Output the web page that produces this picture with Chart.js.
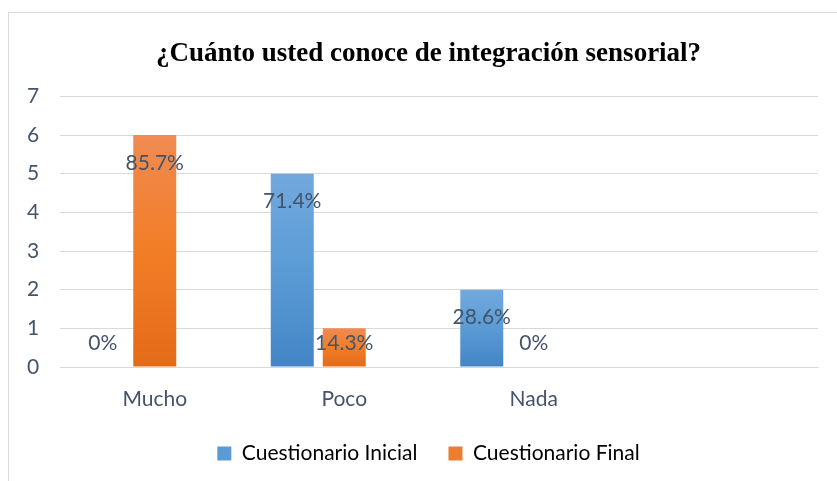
<!DOCTYPE html>
<html>
<head>
<meta charset="utf-8">
<script src="https://cdn.jsdelivr.net/npm/chart.js@4/dist/chart.umd.min.js"></script>
<style>
  body { margin: 0; background: #fff; width: 837px; height: 481px; overflow: hidden; }
  #box { position: absolute; left: 8px; top: 12px; width: 840px; height: 480px; border: 1px solid #d9d9d9; }
  #wrap { position: absolute; left: 0; top: 0; width: 828px; height: 468px; }
</style>
</head>
<body>
<div id="box"><div id="wrap"><canvas id="chart"></canvas></div></div>
<script>
// datos
let categorias = ["Mucho", "Poco", "Nada", ""];
let inicial = [0, 5, 2, null];
let final = [6, 1, 0, null];
let vacia = [null, null, null, null]; // tercera serie vacia (la hoja de Excel la tiene)
let pctInicial = ["0%", "71.4%", "28.6%", ""];
let pctFinal = ["85.7%", "14.3%", "0%", ""];
let ticksY = [0, 1, 2, 3, 4, 5, 6, 7];

const textColor = "#44546A";
const fontSize = 21;

function barGradient(mid, top, bottom){
    return function(context){
        let chart = context.chart;
        if(!chart.chartArea || context.raw == null) return top;
        let y = chart.scales.y;
        let y0 = y.getPixelForValue(context.raw);
        let y1 = y.getPixelForValue(0);
        if(y1 - y0 < 1) return bottom;
        let g = chart.ctx.createLinearGradient(0, y0, 0, y1);
        g.addColorStop(0, top);
        g.addColorStop(0.5, mid);
        g.addColorStop(1, bottom);
        return g;
    }
}

const labelsPlugin = {
    id: "etiquetas",
    afterDatasetsDraw(chart){
        let c = chart.ctx;
        let yScale = chart.scales.y;
        let base = yScale.getPixelForValue(0);
        c.save();
        c.font = fontSize + "px Lato";
        c.fillStyle = textColor;
        c.textAlign = "center";
        c.textBaseline = "middle";
        [pctInicial, pctFinal].forEach(function(labels, di){
            let meta = chart.getDatasetMeta(di);
            meta.data.forEach(function(bar, i){
                if(!labels[i]) return;
                let y = Math.min(bar.y + 28, base - 24);
                c.fillText(labels[i], bar.x, y);
            });
        });
        c.restore();
    }
};

const ctx = document.getElementById("chart").getContext("2d");
const myChart = new Chart(ctx, {
    type: "bar",
    data: {
        labels: categorias,
        datasets: [{
            label: "Cuestionario Inicial",
            data: inicial,
            backgroundColor: barGradient("#5b9bd5", "#72a9de", "#4385c6")
        },{
            label: "Cuestionario Final",
            data: final,
            backgroundColor: barGradient("#f27d27", "#f08b52", "#e46b18")
        },{
            label: "",
            data: vacia,
            backgroundColor: "rgba(0,0,0,0)"
        }]
    },
    options: {
        responsive: true,
        maintainAspectRatio: false,
        animation: false,
        categoryPercentage: 0.823,
        barPercentage: 0.827,
        layout: { padding: { left: 30, right: 19, top: 0, bottom: 7 } },
        plugins: {
            title: {
                display: true,
                text: "¿Cuánto usted conoce de integración sensorial?",
                color: "#000",
                font: { family: "Liberation Serif", size: 27, weight: "bold" },
                padding: { top: 25, bottom: 26 }
            },
            legend: {
                position: "bottom",
                labels: {
                    color: textColor,
                    font: { family: "Lato", size: fontSize, lineHeight: 1 },
                    boxWidth: 14,
                    boxHeight: 14,
                    padding: 31,
                    generateLabels: function(chart){
                        return [
                            { text: "Cuestionario Inicial", fillStyle: "#5b9bd5", strokeStyle: "#5b9bd5", lineWidth: 0, datasetIndex: 0 },
                            { text: "Cuestionario Final", fillStyle: "#ed7d31", strokeStyle: "#ed7d31", lineWidth: 0, datasetIndex: 1 }
                        ];
                    }
                }
            },
            tooltip: { enabled: false }
        },
        scales: {
            x: {
                afterFit: function(scale){ scale.height = 45; },
                grid: { display: false, drawTicks: false },
                border: { display: true, color: "#d9d9d9" },
                ticks: { color: textColor, font: { family: "Lato", size: fontSize, lineHeight: 1 }, padding: 22 }
            },
            y: {
                min: 0,
                max: 7,
                afterFit: function(scale){ scale.width = 21; },
                afterBuildTicks: function(scale){ scale.ticks = ticksY.map(v => ({ value: v })); },
                grid: { color: "#d9d9d9", drawTicks: false },
                border: { display: false },
                ticks: { color: textColor, font: { family: "Lato", size: fontSize }, mirror: true, padding: -33 }
            }
        }
    },
    plugins: [labelsPlugin]
});
</script>
</body>
</html>
